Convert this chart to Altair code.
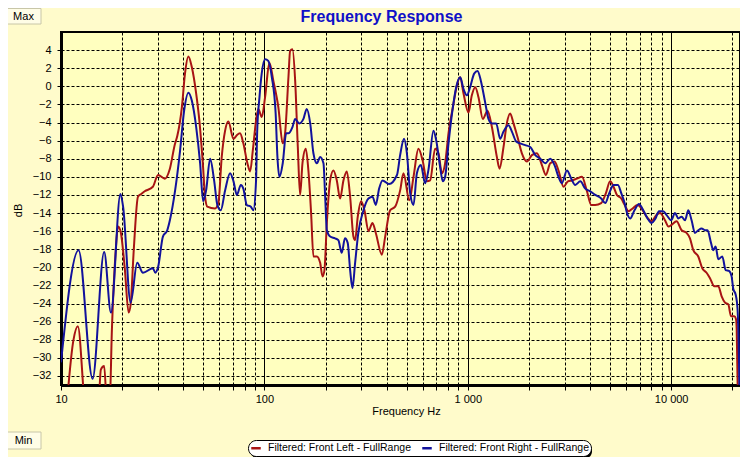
import altair as alt
import pandas as pd

# ---------------- data ----------------
series_names = ["Filtered: Front Left - FullRange", "Filtered: Front Right - FullRange"]
series_colors = ["#A81414", "#12129C"]

left_freq = [10.6, 11.5, 12.1, 13.3, 15.2, 15.7, 16.3, 16.9, 17.3, 17.8, 18.5, 19.1, 19.7, 20.6,
             21.5, 22.0, 22.8, 23.9, 24.8, 25.8, 28.3, 30.0, 32.4, 34.3, 36.3, 37.3, 39.3, 40.7,
             42.3, 44.0, 46.2, 47.9, 49.8, 51.1, 52.4, 57.2, 59.4, 61.7, 64.1, 66.5, 70.5, 73.2,
             75.9, 78.8, 82.5, 85.1, 87.7, 91.0, 93.4, 97.0, 100.8, 105.8, 110.7, 117.1, 123.1,
             126.4, 131.3, 133.8, 137.4, 141.7, 146.0, 149.8, 153.9, 159.8, 164.6, 169.7, 174.2,
             181.1, 188.0, 193.1, 197.4, 202.8, 210.5, 218.4, 227.0, 235.6, 244.7, 254.2, 264.0,
             274.0, 279.3, 287.8, 299.0, 310.5, 324.8, 340.0, 353.0, 378.0, 392.6, 415.0, 439.6,
             465.0, 483.0, 516.0, 541.0, 572.0, 600.0, 630.0, 653.0, 691.0, 718.0, 746.0, 774.0,
             804.0, 851.0, 884.0, 918.0, 953.0, 1008.0, 1047.0, 1088.0, 1129.0, 1186.0, 1250.0,
             1314.0, 1390.0, 1432.0, 1499.0, 1556.0, 1616.0, 1678.0, 1756.0, 1845.0, 1953.0,
             2066.0, 2188.0, 2315.0, 2422.0, 2543.0, 2670.0, 2793.0, 2957.0, 3107.0, 3252.0,
             3441.0, 3642.0, 3855.0, 4046.0, 4233.0, 4530.0, 4777.0, 5012.0, 5208.0, 5411.0,
             5682.0, 5904.0, 6173.0, 6457.0, 6835.0, 7149.0, 7568.0, 8010.0, 8478.0, 8810.0,
             9323.0, 9697.0, 10050.0, 10630.0, 11250.0, 11906.0, 12372.0, 12846.0, 13593.0,
             14223.0, 14931.0, 15524.0, 16293.0, 17050.0, 17710.0, 18400.0, 19100.0, 19690.0,
             20430.0, 20830.0, 21000.0, 21300.0]
left_db = [-36.0, -28.1, -26.5, -36.0, -36.0, -31.3, -30.9, -36.0, -36.0, -26.8, -18.8, -15.5,
           -16.2, -20.2, -25.0, -24.1, -18.0, -12.2, -11.9, -11.6, -11.1, -9.8, -10.2, -9.1,
           -6.4, -5.5, -2.3, 1.4, 3.3, 2.1, -0.8, -3.8, -8.5, -12.2, -13.3, -13.5, -12.9, -7.8,
           -4.9, -3.9, -5.8, -5.4, -5.2, -6.3, -8.5, -9.4, -7.1, -3.8, -2.5, -3.4, -1.2, 2.6,
           0.6, -2.3, -6.3, -5.2, 1.0, 3.9, 4.1, 0.6, -6.7, -12.0, -8.5, -6.9, -9.3, -14.0,
           -18.8, -18.8, -19.5, -21.0, -20.3, -15.1, -10.4, -9.3, -10.4, -12.4, -10.4, -9.4,
           -12.2, -16.6, -17.0, -14.4, -12.7, -13.7, -16.0, -15.1, -16.2, -18.6, -16.6, -13.7,
           -13.3, -11.5, -9.6, -12.6, -10.0, -6.9, -8.2, -10.5, -10.4, -6.9, -7.4, -9.6, -8.5,
           -5.2, -1.9, 0.1, 1.0, -0.8, -2.9, -1.0, -0.1, -1.2, -3.6, -2.7, -4.5, -7.8, -9.1,
           -6.7, -4.1, -3.0, -4.1, -5.6, -7.4, -8.3, -7.6, -7.4, -8.7, -9.8, -8.5, -8.3, -9.3,
           -11.1, -10.5, -10.4, -10.2, -10.0, -11.6, -13.1, -13.1, -12.9, -11.8, -10.5, -11.1,
           -12.0, -12.4, -13.1, -13.8, -13.5, -13.1, -13.5, -14.4, -14.9, -14.2, -14.0, -14.8,
           -15.5, -15.3, -14.9, -15.9, -16.2, -16.8, -18.1, -18.8, -20.1, -20.6, -21.2, -22.1,
           -22.1, -23.2, -23.9, -24.1, -25.4, -25.4, -25.7, -26.8, -35.0]

right_freq = [10.0, 12.2, 14.3, 16.3, 17.6, 19.6, 20.2, 22.0, 23.7, 25.3, 28.3, 29.1, 30.0, 31.7,
              33.3, 34.3, 36.4, 38.5, 40.3, 42.3, 44.0, 46.2, 48.3, 50.0, 51.7, 54.1, 56.6, 58.7,
              61.0, 64.1, 67.8, 70.5, 73.2, 76.6, 78.8, 81.9, 85.8, 88.2, 91.0, 92.2, 94.6, 97.0,
              100.8, 104.5, 108.8, 113.6, 115.9, 118.5, 123.1, 128.0, 131.3, 137.4, 141.7, 148.4,
              155.6, 161.5, 168.0, 174.2, 181.1, 188.0, 195.2, 199.0, 202.8, 210.5, 222.6, 231.0,
              240.0, 249.0, 256.8, 264.0, 271.0, 279.3, 289.6, 307.0, 324.8, 340.0, 353.0, 366.6,
              381.0, 410.0, 448.6, 465.0, 486.0, 502.0, 521.0, 541.0, 562.0, 588.0, 617.0, 641.0,
              678.0, 700.0, 731.0, 754.0, 774.0, 804.0, 845.0, 877.0, 918.0, 953.0, 990.0, 1027.0,
              1075.0, 1117.0, 1160.0, 1218.0, 1264.0, 1314.0, 1380.0, 1443.0, 1499.0, 1586.0,
              1648.0, 1730.0, 1809.0, 1915.0, 2028.0, 2146.0, 2272.0, 2404.0, 2543.0, 2670.0,
              2793.0, 2902.0, 3073.0, 3228.0, 3375.0, 3574.0, 3781.0, 4000.0, 4233.0, 4530.0,
              4743.0, 4961.0, 5208.0, 5470.0, 5682.0, 5904.0, 6067.0, 6287.0, 6600.0, 6944.0,
              7289.0, 7655.0, 8010.0, 8378.0, 8710.0, 9141.0, 9480.0, 10000.0, 10440.0, 10840.0,
              11250.0, 11700.0, 12140.0, 12600.0, 13090.0, 13593.0, 14110.0, 14660.0, 15100.0,
              15700.0, 16110.0, 16540.0, 17050.0, 17840.0, 18530.0, 19250.0, 19820.0, 20210.0,
              20750.0, 21200.0, 21560.0, 21700.0]
right_db = [-30.5, -18.1, -32.3, -18.3, -25.0, -11.9, -13.3, -23.9, -19.5, -20.6, -20.1, -20.6,
            -20.0, -16.6, -15.9, -14.8, -11.5, -7.1, -2.7, -0.7, -1.6, -4.5, -8.5, -12.7, -11.5,
            -8.0, -10.4, -13.1, -13.7, -11.5, -9.6, -10.5, -12.0, -10.9, -11.3, -13.1, -13.3,
            -13.7, -10.4, -4.9, -1.2, 1.4, 3.0, 2.8, 1.0, -3.0, -7.8, -10.0, -8.5, -5.2, -5.2,
            -4.5, -3.6, -4.1, -3.6, -2.5, -4.1, -7.4, -8.5, -7.8, -8.5, -12.2, -15.9, -16.6,
            -16.8, -17.0, -18.4, -16.8, -17.3, -20.3, -22.3, -19.5, -16.2, -13.7, -12.4, -12.2,
            -13.1, -11.3, -10.4, -10.8, -9.8, -7.6, -5.8, -7.4, -11.8, -13.1, -9.6, -8.7, -10.7,
            -9.2, -4.9, -6.0, -8.9, -10.5, -10.0, -6.3, -2.3, -0.1, 1.0, -0.3, -1.0, -0.1, 1.4,
            1.7, 0.6, -1.8, -3.6, -4.1, -4.1, -5.8, -5.0, -4.3, -5.0, -6.1, -6.3, -6.5, -6.7,
            -7.6, -8.0, -8.5, -8.0, -8.7, -10.0, -10.7, -9.3, -10.2, -10.9, -10.5, -11.3, -11.6,
            -12.0, -12.4, -12.9, -11.8, -10.9, -10.9, -11.8, -12.9, -14.0, -14.6, -13.7, -13.0,
            -13.7, -14.6, -15.1, -14.6, -13.8, -13.8, -14.2, -14.8, -14.0, -14.6, -14.4, -14.8,
            -13.7, -14.8, -16.2, -15.9, -15.7, -15.9, -15.9, -17.3, -18.1, -17.7, -19.1, -18.8,
            -20.3, -20.4, -21.0, -22.4, -23.0, -24.6, -30.5, -35.0]

x_ticks = [10, 20, 30, 40, 50, 60, 70, 80, 90,
           100, 200, 300, 400, 500, 600, 700, 800, 900,
           1000, 2000, 3000, 4000, 5000, 6000, 7000, 8000, 9000,
           10000, 20000]
x_major = [10, 100, 1000, 10000]
x_major_labels = ["10", "100", "1 000", "10 000"]
y_ticks = [-32, -30, -28, -26, -24, -22, -20, -18, -16, -14, -12, -10, -8, -6, -4, -2, 0, 2, 4]

title_text = ["Frequency Response"]
x_title = "Frequency Hz"
y_title = "dB"
button_texts = ["Max", "Min"]

# ---------------- build ----------------
df = pd.concat([
    pd.DataFrame({"freq": left_freq, "db": left_db, "series": series_names[0]}),
    pd.DataFrame({"freq": right_freq, "db": right_db, "series": series_names[1]}),
], ignore_index=True)

FONT = "Liberation Sans"

label_expr = " : ".join(
    f"datum.value == {v} ? '{t}'" for v, t in zip(x_major, x_major_labels)
) + " : ''"
major_test = " || ".join(f"datum.value == {v}" for v in x_major)

x_enc = alt.X(
    "freq:Q",
    scale=alt.Scale(type="log", domain=[10, 21800], nice=False),
    axis=alt.Axis(
        values=x_ticks, labelExpr=label_expr, title=x_title,
        grid=True, gridColor="black", gridOpacity=1, gridWidth=1,
        gridDash={"condition": {"test": major_test, "value": []}, "value": [3, 2]},
        domainColor="black", domainWidth=3, tickColor="black", tickSize=5,
        labelFont=FONT, labelFontSize=11, labelColor="black", labelPadding=3,
        labelFlush=False, labelOverlap=False,
        titleFont=FONT, titleFontSize=11, titleFontWeight="normal", titleColor="black",
        titleX=345, titleY=20, titleBaseline="top", titleAnchor="start", titleAlign="center",
    ),
)
y_enc = alt.Y(
    "db:Q",
    scale=alt.Scale(domain=[-33, 6], nice=False, zero=False),
    axis=alt.Axis(
        values=y_ticks, title=y_title, grid=True, gridColor="black", gridOpacity=1,
        gridWidth=1, gridDash=[3, 2], domainColor="black", domainWidth=3,
        tickColor="black", tickSize=4, labelFont=FONT, labelFontSize=11,
        labelColor="black", labelPadding=6, labelFlush=False, labelOverlap=False,
        titleFont=FONT, titleFontSize=11, titleFontWeight="normal", titleColor="black",
        titleX=-38, titleY=178, titleAngle=-90, titleAlign="center", titleBaseline="bottom",
    ),
)

lines = alt.Chart(df).mark_line(strokeWidth=2, clip=True, interpolate="monotone").encode(
    x=x_enc,
    y=y_enc,
    color=alt.Color(
        "series:N",
        scale=alt.Scale(domain=series_names, range=series_colors),
        legend=alt.Legend(
            title=None, orient="none", legendX=187, legendY=408, direction="horizontal",
            symbolType="stroke", symbolStrokeWidth=2.5, symbolSize=90,
            labelFont=FONT, labelFontSize=10.5, labelColor="black", labelLimit=400,
            fillColor="white", strokeColor="black", cornerRadius=8, padding=2,
            columnPadding=6, labelOffset=6,
        ),
    ),
)

btn_max = pd.DataFrame({"t": [button_texts[0]]})
btn_min = pd.DataFrame({"t": [button_texts[1]]})
title_df = pd.DataFrame({"t": title_text})

max_rect = alt.Chart(btn_max).mark_rect(fill="#FFFDE6", stroke="#C8C6A8", strokeWidth=1).encode(
    x=alt.value(-55), x2=alt.value(-20), y=alt.value(-23.5), y2=alt.value(-8))
max_text = alt.Chart(btn_max).mark_text(font=FONT, fontSize=11, color="black").encode(
    x=alt.value(-37.5), y=alt.value(-15.5), text="t:N")
min_rect = alt.Chart(btn_min).mark_rect(fill="#FFFDE6", stroke="#C8C6A8", strokeWidth=1).encode(
    x=alt.value(-55), x2=alt.value(-20), y=alt.value(400), y2=alt.value(417))
min_text = alt.Chart(btn_min).mark_text(font=FONT, fontSize=11, color="black").encode(
    x=alt.value(-37.5), y=alt.value(408.5), text="t:N")
legend_shadow = alt.Chart(btn_min).mark_rect(fill="black", cornerRadius=7).encode(
    x=alt.value(190), x2=alt.value(531), y=alt.value(411), y2=alt.value(426.5))
title_mark = alt.Chart(title_df).mark_text(
    font=FONT, fontSize=16, fontWeight="bold", color="#1010C8", baseline="middle"
).encode(x=alt.value(320.5), y=alt.value(-15), text="t:N")

chart = alt.layer(
    lines, max_rect, max_text, min_rect, min_text, legend_shadow, title_mark
).properties(
    width=679, height=353,
    autosize=alt.AutoSizeParams(type="none"),
    padding={"left": 53, "top": 24, "right": 0, "bottom": 72},
).configure(background="#FFFBCB").configure_view(
    fill="#FFFFBF", stroke="black", strokeWidth=2
)

chart.save("out.html", embed_options={"renderer": "svg", "actions": False})
